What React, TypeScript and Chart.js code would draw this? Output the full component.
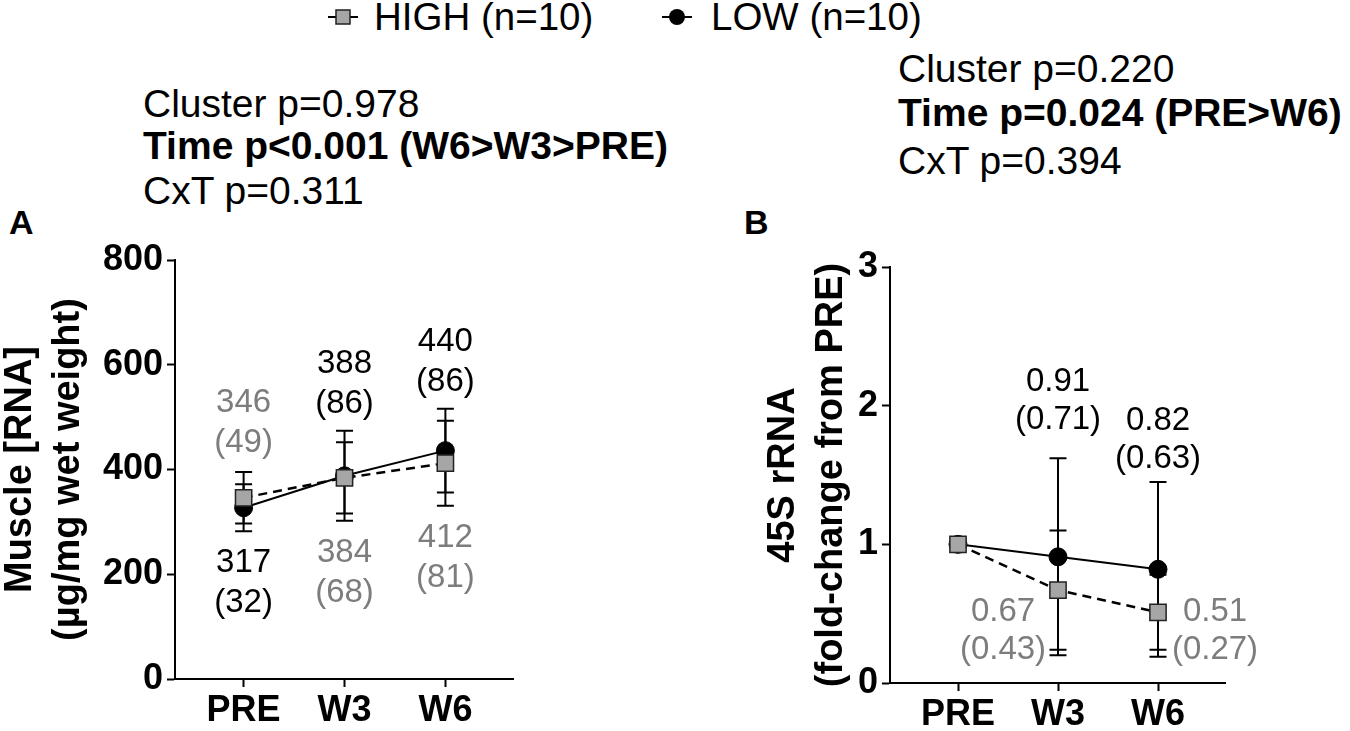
import { useEffect, useRef } from 'react';
import { Chart, registerables } from 'chart.js';

Chart.register(...registerables);

const FONT = '"Liberation Sans", Arial, Helvetica, sans-serif';
const GRAY_TEXT = '#7d7d7d';

const timepoints = ['PRE', 'W3', 'W6'];

// Panel A - muscle [RNA] (ug/mg wet weight), plotted means and error bars
const highMuscle = [346, 384, 412];
const highMuscleSd = [49, 68, 81];
const lowMuscle = [327, 388, 436];
const lowMuscleSd = [45, 86, 80];
// mean (SD) printed beside the points
const highMuscleText = ['346', '384', '412'];
const highMuscleSdText = ['(49)', '(68)', '(81)'];
const lowMuscleText = ['317', '388', '440'];
const lowMuscleSdText = ['(32)', '(86)', '(86)'];
const muscleTicks = [0, 200, 400, 600, 800];

// Panel B - 45S rRNA, fold-change from PRE
const high45s = [1, 0.67, 0.51];
const high45sSd = [0, 0.43, 0.27];
const low45s = [1, 0.91, 0.82];
const low45sSd = [0, 0.71, 0.63];
const foldTicks = [0, 1, 2, 3];

type Spot = { dx: number; y: number } | null;
type Note = { x: number; y: number; lines: string[]; color: string };
type Series = { key: 'HIGH' | 'LOW'; values: number[]; errors: number[] };

// where the number labels sit (x offset in category units, y in data units)
const muscleHighSpots: Spot[] = [{ dx: 0, y: 527 }, { dx: 0, y: 240 }, { dx: 0, y: 269 }];
const muscleLowSpots: Spot[] = [{ dx: 0, y: 221 }, { dx: 0, y: 601 }, { dx: 0, y: 643 }];
const foldHighSpots: Spot[] = [null, { dx: -0.55, y: 0.51 }, { dx: 0.57, y: 0.51 }];
const foldLowSpots: Spot[] = [null, { dx: 0, y: 2.17 }, { dx: 0, y: 1.89 }];

const seriesStyle = {
  HIGH: {
    pointStyle: 'rect',
    pointRadius: 11.5,
    pointBackgroundColor: '#a6a6a6',
    pointBorderColor: '#222',
    pointBorderWidth: 1.5,
    borderWidth: 2.5,
    borderDash: [9, 6],
  },
  LOW: {
    pointStyle: 'circle',
    pointRadius: 9,
    pointBackgroundColor: '#000',
    pointBorderColor: '#000',
    pointBorderWidth: 1,
    borderWidth: 2,
    borderDash: [],
  },
};

function makeNotes(spots: Spot[], top: string[], bottom: string[], color: string): Note[] {
  const out: Note[] = [];
  spots.forEach((s, i) => {
    if (!s) return;
    out.push({ x: i + s.dx, y: s.y, lines: [top[i], bottom[i]], color });
  });
  return out;
}

const errorBarPlugin = {
  id: 'errorBars',
  beforeDatasetsDraw(chart: any) {
    const { ctx, scales } = chart;
    const x = scales.x;
    const y = scales.y;
    ctx.save();
    ctx.strokeStyle = '#000';
    ctx.lineWidth = 2;
    chart.data.datasets.forEach((ds: any) => {
      ds.data.forEach((p: any, i: number) => {
        const sd = ds.errors[i];
        if (!sd) return;
        const px = x.getPixelForValue(p.x);
        const top = y.getPixelForValue(p.y + sd);
        const bot = y.getPixelForValue(p.y - sd);
        ctx.beginPath();
        ctx.moveTo(px, top);
        ctx.lineTo(px, bot);
        ctx.moveTo(px - 8.5, top);
        ctx.lineTo(px + 8.5, top);
        ctx.moveTo(px - 8.5, bot);
        ctx.lineTo(px + 8.5, bot);
        ctx.stroke();
      });
    });
    ctx.restore();
  },
};

type PanelProps = {
  left: number;
  width: number;
  yTicks: number[];
  yTitle: string[];
  yAxisWidth: number;
  xAxisHeight: number;
  padTop: number;
  padRight: number;
  series: Series[];
  notes: Note[];
  lineGap: number;
};

function Panel(props: PanelProps) {
  const canvasRef = useRef<HTMLCanvasElement>(null);
  const height = 501;

  useEffect(() => {
    if (!canvasRef.current) return;
    const { yTicks, yTitle, yAxisWidth, xAxisHeight, padTop, padRight, series, notes, lineGap } = props;

    const labelPlugin = {
      id: 'pointLabels',
      afterDatasetsDraw(chart: any) {
        const { ctx, scales } = chart;
        ctx.save();
        ctx.font = `33px ${FONT}`;
        ctx.textAlign = 'center';
        ctx.textBaseline = 'middle';
        notes.forEach((n) => {
          ctx.fillStyle = n.color;
          const px = scales.x.getPixelForValue(n.x);
          const py = scales.y.getPixelForValue(n.y);
          n.lines.forEach((t, k) => ctx.fillText(t, px, py + k * lineGap));
        });
        ctx.restore();
      },
    };

    const chart = new Chart(canvasRef.current, {
      type: 'line',
      data: {
        datasets: series.map((s) => ({
          label: s.key,
          data: s.values.map((v, i) => ({ x: i, y: v })),
          errors: s.errors,
          borderColor: '#000',
          fill: false,
          tension: 0,
          clip: false,
          ...seriesStyle[s.key],
        })) as any,
      },
      options: {
        responsive: false,
        animation: false,
        layout: { padding: { top: padTop, right: padRight, left: 0, bottom: 0 } },
        plugins: {
          legend: { display: false },
          tooltip: { enabled: false },
        },
        scales: {
          x: {
            type: 'linear',
            min: -0.68,
            max: 2.67,
            afterBuildTicks: (scale: any) => {
              scale.ticks = timepoints.map((_, i) => ({ value: i }));
            },
            afterFit: (scale: any) => {
              scale.height = xAxisHeight;
            },
            grid: {
              display: true,
              drawOnChartArea: false,
              drawTicks: true,
              tickLength: 8,
              tickWidth: 2,
              tickColor: '#000',
            },
            border: { display: true, color: '#000', width: 2 },
            ticks: {
              autoSkip: false,
              maxRotation: 0,
              padding: 2,
              color: '#000',
              font: { family: FONT, size: 36, weight: 'bold' },
              callback: (v: any) => timepoints[v] ?? '',
            },
          },
          y: {
            type: 'linear',
            min: yTicks[0],
            max: yTicks[yTicks.length - 1],
            afterBuildTicks: (scale: any) => {
              scale.ticks = yTicks.map((v) => ({ value: v }));
            },
            afterFit: (scale: any) => {
              scale.width = yAxisWidth;
            },
            grid: {
              display: true,
              drawOnChartArea: false,
              drawTicks: true,
              tickLength: 8,
              tickWidth: 2,
              tickColor: '#000',
            },
            border: { display: true, color: '#000', width: 2 },
            ticks: {
              padding: 4,
              color: '#000',
              font: { family: FONT, size: 36, weight: 'bold' },
            },
            title: {
              display: true,
              text: yTitle,
              color: '#000',
              padding: 0,
              font: { family: FONT, size: 38, weight: 'bold', lineHeight: 1.25 },
            },
          },
        },
      } as any,
      plugins: [errorBarPlugin, labelPlugin],
    });

    return () => chart.destroy();
  }, []);

  return (
    <canvas
      ref={canvasRef}
      width={props.width}
      height={height}
      style={{ position: 'absolute', left: props.left, top: 230, width: props.width, height }}
    />
  );
}

const textBase: any = { position: 'absolute', fontFamily: FONT, lineHeight: 1, whiteSpace: 'nowrap', color: '#000' };

function LegendMarker({ kind }: { kind: 'HIGH' | 'LOW' }) {
  return (
    <svg width={30} height={24} style={{ display: 'block' }}>
      <line x1={0} y1={12} x2={30} y2={12} stroke="#000" strokeWidth={2} />
      {kind === 'HIGH' ? (
        <rect x={8} y={5} width={14} height={14} fill="#a6a6a6" stroke="#222" strokeWidth={1.5} />
      ) : (
        <circle cx={15} cy={12} r={8} fill="#000" />
      )}
    </svg>
  );
}

export default function App() {
  const muscleSeries: Series[] = [
    { key: 'HIGH', values: highMuscle, errors: highMuscleSd },
    { key: 'LOW', values: lowMuscle, errors: lowMuscleSd },
  ];
  const foldSeries: Series[] = [
    { key: 'HIGH', values: high45s, errors: high45sSd },
    { key: 'LOW', values: low45s, errors: low45sSd },
  ];
  const muscleNotes = [
    ...makeNotes(muscleHighSpots, highMuscleText, highMuscleSdText, GRAY_TEXT),
    ...makeNotes(muscleLowSpots, lowMuscleText, lowMuscleSdText, '#000'),
  ];
  const fmt = (v: number) => v.toFixed(2);
  const foldNotes = [
    ...makeNotes(foldHighSpots, high45s.map(fmt), high45sSd.map((v) => `(${fmt(v)})`), GRAY_TEXT),
    ...makeNotes(foldLowSpots, low45s.map(fmt), low45sSd.map((v) => `(${fmt(v)})`), '#000'),
  ];

  return (
    <div style={{ position: 'absolute', left: 0, top: 0, width: 1350, height: 731, background: '#fff', overflow: 'hidden' }}>
      {/* legend */}
      <div style={{ position: 'absolute', left: 328, top: 5 }}>
        <LegendMarker kind="HIGH" />
      </div>
      <div style={{ ...textBase, left: 374, top: -2, fontSize: 38.5 }}>HIGH (n=10)</div>
      <div style={{ position: 'absolute', left: 662, top: 5 }}>
        <LegendMarker kind="LOW" />
      </div>
      <div style={{ ...textBase, left: 711, top: -2, fontSize: 38.5 }}>LOW (n=10)</div>

      {/* statistics, panel A */}
      <div style={{ ...textBase, left: 143, top: 84, fontSize: 39 }}>Cluster p=0.978</div>
      <div style={{ ...textBase, left: 143, top: 126, fontSize: 39, fontWeight: 'bold' }}>Time p&lt;0.001 (W6&gt;W3&gt;PRE)</div>
      <div style={{ ...textBase, left: 143, top: 171, fontSize: 39 }}>CxT p=0.311</div>

      {/* statistics, panel B */}
      <div style={{ ...textBase, left: 898, top: 49, fontSize: 39 }}>Cluster p=0.220</div>
      <div style={{ ...textBase, left: 898, top: 93, fontSize: 39, fontWeight: 'bold' }}>Time p=0.024 (PRE&gt;W6)</div>
      <div style={{ ...textBase, left: 898, top: 141, fontSize: 39 }}>CxT p=0.394</div>

      <div style={{ ...textBase, left: 9, top: 205, fontSize: 34, fontWeight: 'bold' }}>A</div>
      <div style={{ ...textBase, left: 744, top: 205, fontSize: 34, fontWeight: 'bold' }}>B</div>

      <Panel
        left={-3}
        width={543}
        yTicks={muscleTicks}
        yTitle={['Muscle [RNA]', '(µg/mg wet weight)']}
        yAxisWidth={178}
        xAxisHeight={52}
        padTop={30}
        padRight={27}
        series={muscleSeries}
        notes={muscleNotes}
        lineGap={40}
      />
      <Panel
        left={760}
        width={590}
        yTicks={foldTicks}
        yTitle={['45S rRNA', '(fold-change from PRE)']}
        yAxisWidth={130}
        xAxisHeight={48}
        padTop={37}
        padRight={125}
        series={foldSeries}
        notes={foldNotes}
        lineGap={38}
      />
    </div>
  );
}
